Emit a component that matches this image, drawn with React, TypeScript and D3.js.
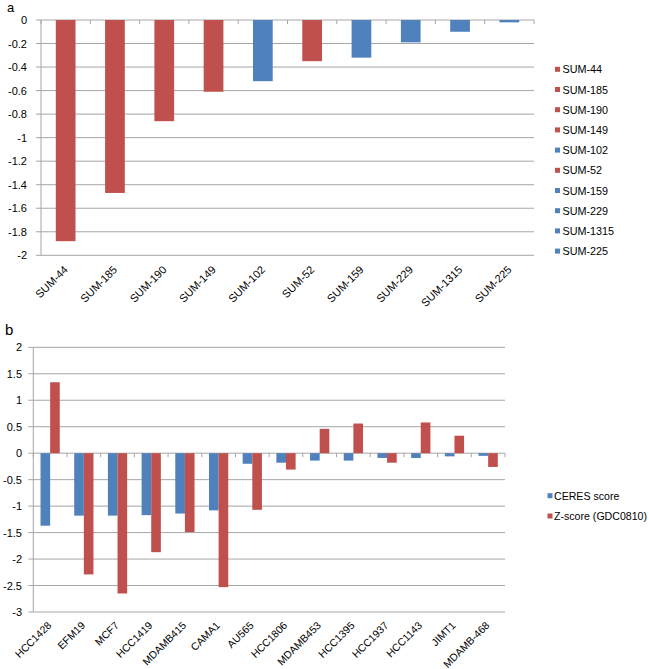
import React from "react";
import * as d3 from "d3";

const catsA = ["SUM-44","SUM-185","SUM-190","SUM-149","SUM-102","SUM-52","SUM-159","SUM-229","SUM-1315","SUM-225"];
const valsA = [-1.88,-1.47,-0.86,-0.61,-0.52,-0.35,-0.32,-0.19,-0.10,-0.02];
const groupA = ["r","r","r","r","b","r","b","b","b","b"];
const ticksA = [0,-0.2,-0.4,-0.6,-0.8,-1,-1.2,-1.4,-1.6,-1.8,-2];

const catsB = ["HCC1428","EFM19","MCF7","HCC1419","MDAMB415","CAMA1","AU565","HCC1806","MDAMB453","HCC1395","HCC1937","HCC1143","JIMT1","MDAMB-468"];
const ceres = [-1.37,-1.18,-1.18,-1.17,-1.14,-1.08,-0.20,-0.18,-0.14,-0.14,-0.09,-0.09,-0.06,-0.05];
const zscore = [1.34,-2.29,-2.65,-1.87,-1.49,-2.53,-1.07,-0.31,0.46,0.56,-0.18,0.58,0.33,-0.26];
const seriesB = ["CERES score","Z-score (GDC0810)"];
const ticksB = [2,1.5,1,0.5,0,-0.5,-1,-1.5,-2,-2.5,-3];

const RED = "#C0504D";
const BLUE = "#4F81BD";
const GRID = "#a6a6a6";
const FONT = "'Liberation Sans', Arial, sans-serif";

const fmt = (v: number) => (v === 0 ? "0" : String(v));

export default function App() {
  // Panel a
  const xa = d3.scaleBand<string>().domain(catsA).range([41, 534]).padding(0);
  const ya = d3.scaleLinear().domain([-2, 0]).range([255.3, 20]);
  const bwA = xa.bandwidth() / 2.5;

  // Panel b
  const xb = d3.scaleBand<string>().domain(catsB).range([33.3, 505]).padding(0);
  const yb = d3.scaleLinear().domain([-3, 2]).range([612, 347.3]);
  const bwB = xb.bandwidth() / 3.5;

  const boundsA = catsA.map((c) => xa(c)!).concat([534]);
  const boundsB = catsB.map((c) => xb(c)!).concat([505]);

  return (
    <svg width={649} height={669} style={{ position: "absolute", left: 0, top: 0, background: "#fff" }} fontFamily={FONT}>
      <rect width={649} height={669} fill="#fff" />
      {/* Panel a */}
      <text x={7} y={12} fontSize={13} fill="#000">a</text>
      {ticksA.map((t) => (
        <g key={"ga" + t}>
          <line x1={41} x2={534} y1={ya(t)} y2={ya(t)} stroke={GRID} strokeWidth={1} />
          <line x1={36} x2={41} y1={ya(t)} y2={ya(t)} stroke={GRID} strokeWidth={1} />
          <text x={27} y={ya(t)} fontSize={11} textAnchor="end" dominantBaseline="central" fill="#000">{fmt(t)}</text>
        </g>
      ))}
      <line x1={41} x2={41} y1={ya(0)} y2={ya(-2)} stroke={GRID} />
      {catsA.map((c, i) => (
        <rect key={"ba" + c} x={xa(c)! + (xa.bandwidth() - bwA) / 2} y={ya(0)} width={bwA} height={ya(valsA[i]) - ya(0)} fill={groupA[i] === "r" ? RED : BLUE} />
      ))}
      {boundsA.map((x, i) => (
        <line key={"ta" + i} x1={x} x2={x} y1={ya(0)} y2={ya(0) + 4} stroke={GRID} />
      ))}
      {catsA.map((c) => {
        const cx = xa(c)! + xa.bandwidth() / 2 + 3;
        const cy = ya(-2) + 15;
        return (
          <text key={"la" + c} x={cx} y={cy} fontSize={11} textAnchor="end" transform={`rotate(-45 ${cx} ${cy})`} fill="#000">{c}</text>
        );
      })}
      {catsA.map((c, i) => (
        <g key={"lga" + c}>
          <rect x={555} y={69.3 + i * 20.2 - 2.5} width={5} height={5} fill={groupA[i] === "r" ? RED : BLUE} />
          <text x={562.5} y={69.3 + i * 20.2} fontSize={10.8} dominantBaseline="central" fill="#000">{c}</text>
        </g>
      ))}

      {/* Panel b */}
      <text x={5} y={335} fontSize={15} fill="#000">b</text>
      {ticksB.map((t) => (
        <g key={"gb" + t}>
          <line x1={33.3} x2={505} y1={yb(t)} y2={yb(t)} stroke={GRID} strokeWidth={1} />
          <line x1={28.3} x2={33.3} y1={yb(t)} y2={yb(t)} stroke={GRID} strokeWidth={1} />
          <text x={22} y={yb(t)} fontSize={11} textAnchor="end" dominantBaseline="central" fill="#000">{fmt(t)}</text>
        </g>
      ))}
      <line x1={33.3} x2={33.3} y1={yb(2)} y2={yb(-3)} stroke={GRID} />
      {catsB.map((c, i) => {
        const x0 = xb(c)! + (xb.bandwidth() - 2 * bwB) / 2;
        return (
          <g key={"bb" + c}>
            <rect x={x0} y={Math.min(yb(0), yb(ceres[i]))} width={bwB} height={Math.abs(yb(ceres[i]) - yb(0))} fill={BLUE} />
            <rect x={x0 + bwB} y={Math.min(yb(0), yb(zscore[i]))} width={bwB} height={Math.abs(yb(zscore[i]) - yb(0))} fill={RED} />
          </g>
        );
      })}
      {boundsB.map((x, i) => (
        <line key={"tb" + i} x1={x} x2={x} y1={yb(0)} y2={yb(0) + 4} stroke={GRID} />
      ))}
      {catsB.map((c) => {
        const cx = xb(c)! + xb.bandwidth() / 2 + 2;
        const cy = yb(-3) + 14;
        return (
          <text key={"lb" + c} x={cx} y={cy} fontSize={10.5} textAnchor="end" transform={`rotate(-45 ${cx} ${cy})`} fill="#000">{c}</text>
        );
      })}
      {seriesB.map((s, i) => (
        <g key={"lgb" + s}>
          <rect x={547.5} y={495.7 + i * 20.3 - 2.5} width={5} height={5} fill={i === 0 ? BLUE : RED} />
          <text x={554} y={495.7 + i * 20.3} fontSize={10.6} dominantBaseline="central" fill="#000">{s}</text>
        </g>
      ))}
    </svg>
  );
}
